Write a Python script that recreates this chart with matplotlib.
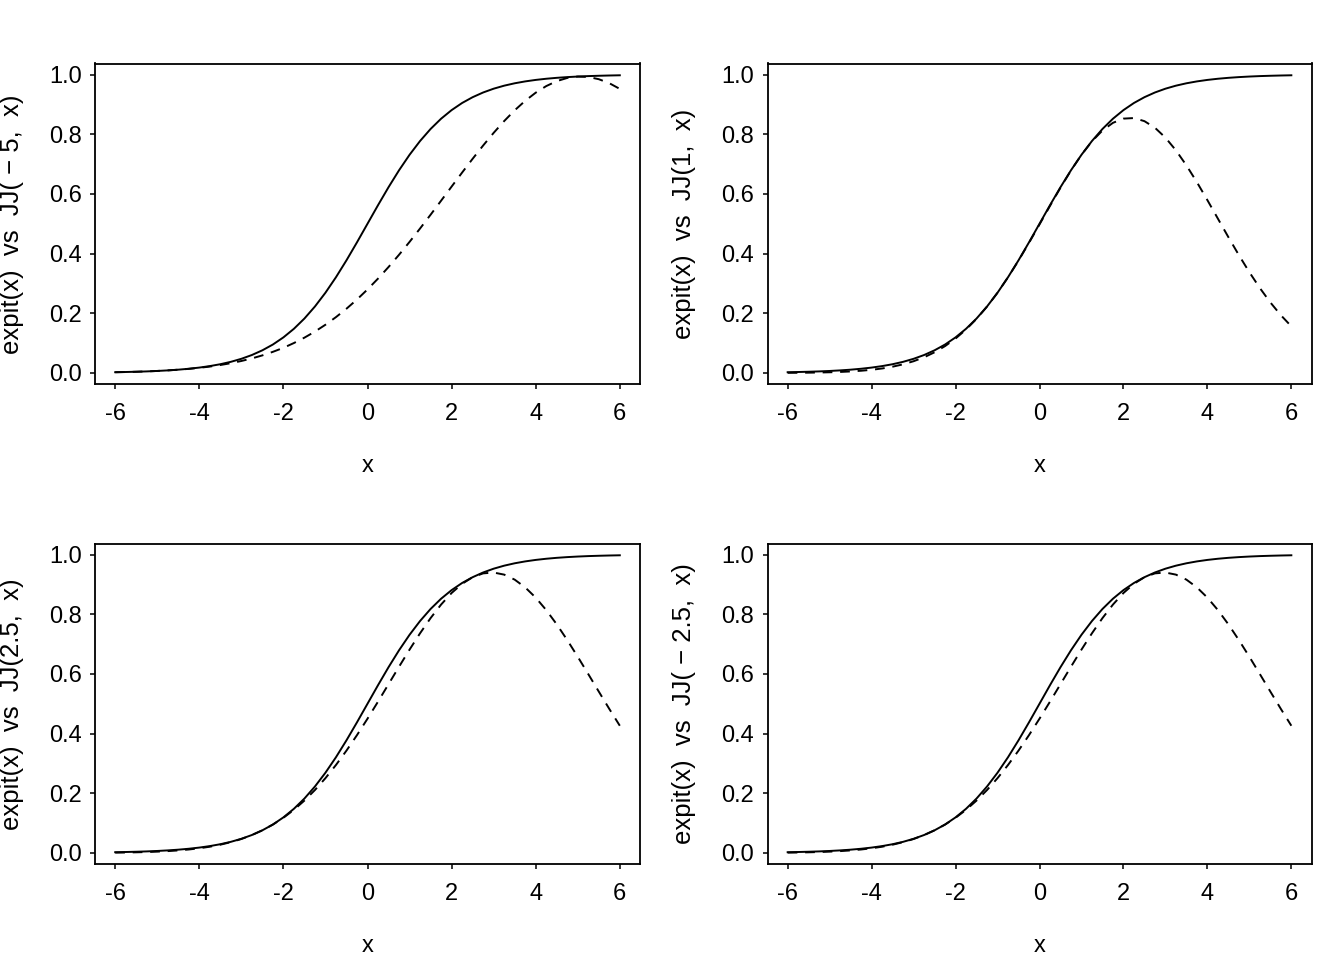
import matplotlib
matplotlib.use("Agg")
import matplotlib.pyplot as plt

plt.rcParams['font.family'] = ['Liberation Sans', 'DejaVu Sans']

# x grid (step 0.25)
x = [-6, -5.75, -5.5, -5.25, -5, -4.75, -4.5, -4.25, -4, -3.75, -3.5, -3.25,
     -3, -2.75, -2.5, -2.25, -2, -1.75, -1.5, -1.25, -1, -0.75, -0.5, -0.25,
     0, 0.25, 0.5, 0.75, 1, 1.25, 1.5, 1.75, 2, 2.25, 2.5, 2.75,
     3, 3.25, 3.5, 3.75, 4, 4.25, 4.5, 4.75, 5, 5.25, 5.5, 5.75, 6]

# solid curve (same in every panel)
expit = [0.0025, 0.0032, 0.0041, 0.0052, 0.0067, 0.0086, 0.0110, 0.0141,
         0.0180, 0.0230, 0.0293, 0.0373, 0.0474, 0.0601, 0.0759, 0.0953,
         0.1192, 0.1480, 0.1824, 0.2227, 0.2689, 0.3208, 0.3775, 0.4378,
         0.5000, 0.5622, 0.6225, 0.6792, 0.7311, 0.7773, 0.8176, 0.8520,
         0.8808, 0.9047, 0.9241, 0.9399, 0.9526, 0.9627, 0.9707, 0.9770,
         0.9820, 0.9859, 0.9890, 0.9914, 0.9933, 0.9948, 0.9959, 0.9968, 0.9975]

# dashed curves
jj_m5 = [0.0024, 0.0031, 0.0040, 0.0052, 0.0067, 0.0086, 0.0109, 0.0137,
         0.0172, 0.0214, 0.0266, 0.0327, 0.0401, 0.0487, 0.0589, 0.0708,
         0.0842, 0.1003, 0.1183, 0.1387, 0.1616, 0.1871, 0.2153, 0.2462,
         0.2799, 0.3162, 0.3550, 0.3961, 0.4392, 0.4841, 0.5302, 0.5772,
         0.6245, 0.6716, 0.7177, 0.7622, 0.8046, 0.8441, 0.8801, 0.9120,
         0.9392, 0.9613, 0.9779, 0.9886, 0.9933, 0.9919, 0.9844, 0.9710, 0.9519]
jj_1 = [0.0004, 0.0006, 0.0010, 0.0015, 0.0023, 0.0034, 0.0051, 0.0074,
        0.0106, 0.0150, 0.0210, 0.0289, 0.0393, 0.0525, 0.0693, 0.0900,
        0.1153, 0.1457, 0.1813, 0.2224, 0.2689, 0.3206, 0.3766, 0.4361,
        0.4977, 0.5599, 0.6209, 0.6786, 0.7311, 0.7763, 0.8125, 0.8382,
        0.8523, 0.8542, 0.8438, 0.8217, 0.7886, 0.7460, 0.6956, 0.6393,
        0.5791, 0.5171, 0.4551, 0.3948, 0.3376, 0.2845, 0.2363, 0.1935, 0.1562]
jj_25 = [0.0011, 0.0015, 0.0022, 0.0031, 0.0044, 0.0062, 0.0085, 0.0116,
         0.0157, 0.0209, 0.0277, 0.0362, 0.0468, 0.0599, 0.0759, 0.0951,
         0.1179, 0.1446, 0.1756, 0.2109, 0.2507, 0.2948, 0.3430, 0.3949,
         0.4499, 0.5071, 0.5656, 0.6241, 0.6814, 0.7362, 0.7870, 0.8324,
         0.8711, 0.9020, 0.9241, 0.9369, 0.9397, 0.9327, 0.9159, 0.8899,
         0.8556, 0.8139, 0.7661, 0.7134, 0.6574, 0.5994, 0.5408, 0.4827, 0.4263]
jj_m25 = [0.0011, 0.0015, 0.0022, 0.0031, 0.0044, 0.0062, 0.0085, 0.0116,
          0.0157, 0.0209, 0.0277, 0.0362, 0.0468, 0.0599, 0.0759, 0.0951,
          0.1179, 0.1446, 0.1756, 0.2109, 0.2507, 0.2948, 0.3430, 0.3949,
          0.4499, 0.5071, 0.5656, 0.6241, 0.6814, 0.7362, 0.7870, 0.8324,
          0.8711, 0.9020, 0.9241, 0.9369, 0.9397, 0.9327, 0.9159, 0.8899,
          0.8556, 0.8139, 0.7661, 0.7134, 0.6574, 0.5994, 0.5408, 0.4827, 0.4263]

labels = ['expit(x)  vs  JJ( \u2212 5,  x)', 'expit(x)  vs  JJ(1,  x)',
          'expit(x)  vs  JJ(2.5,  x)', 'expit(x)  vs  JJ( \u2212 2.5,  x)']
dashed = [jj_m5, jj_1, jj_25, jj_m25]

xticks = [-6, -4, -2, 0, 2, 4, 6]
xticklabels = ['-6', '-4', '-2', '0', '2', '4', '6']
yticks = [0.0, 0.2, 0.4, 0.6, 0.8, 1.0]

fig = plt.figure(figsize=(13.44, 9.6), dpi=100)
W, H = 1344, 960

# panel boxes in pixels: left, top, right, bottom
boxes = [(95, 63.5, 640, 384), (767.5, 63.5, 1311.5, 384),
         (95, 543.5, 640, 864), (767.5, 543.5, 1311.5, 864)]

for i in range(4):
    l, t, r, b = boxes[i]
    ax = fig.add_axes([l / W, 1 - b / H, (r - l) / W, (b - t) / H])
    ax.plot(x, expit, color='black', lw=1.4)
    ax.plot(x, dashed[i], color='black', lw=1.4, dashes=(5, 4))
    ax.set_xlim(-6.48, 6.48)
    ax.set_ylim(-0.037, 1.037)
    ax.set_xticks(xticks)
    ax.set_xticklabels(xticklabels)
    ax.set_yticks(yticks)
    ax.set_yticklabels(['%.1f' % v for v in yticks])
    ax.tick_params(direction='out', length=3.5, width=1.1, labelsize=17,
                   colors='black')
    ax.tick_params(axis='x', pad=10)
    ax.tick_params(axis='y', pad=6)
    for s in ax.spines.values():
        s.set_linewidth(1.3)
    # axis titles
    fig.text((l + r) / 2 / W, 1 - (b + 82) / H, 'x',
             ha='center', va='center', fontsize=17)
    xl = 12 if i % 2 == 0 else 684
    fig.text(xl / W, 1 - (t + b) / 2 / H, labels[i], rotation=90,
             ha='center', va='center', fontsize=18.5)

fig.savefig('out.png', dpi=100)
